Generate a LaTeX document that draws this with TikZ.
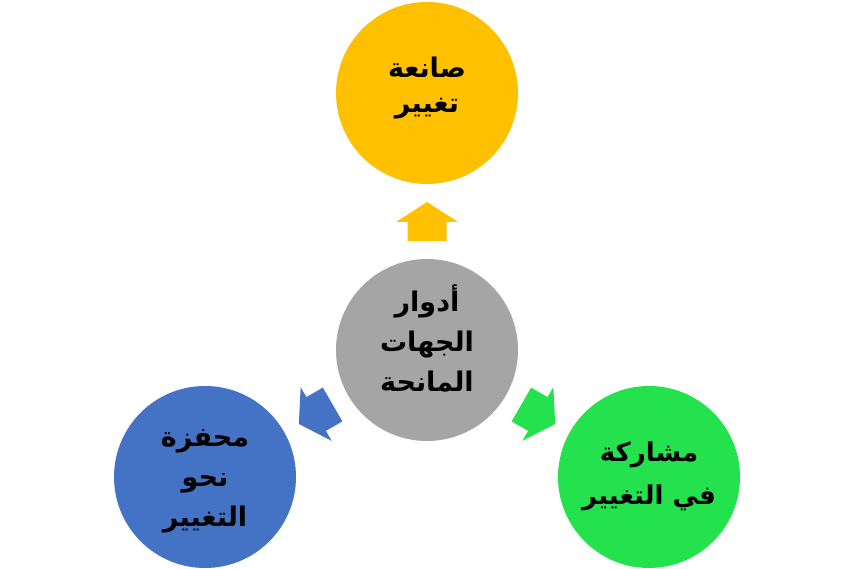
\documentclass[tikz,border=0pt]{standalone}
\usepackage{fontspec}
\newfontfamily\arabicfont[Script=Arabic]{DejaVu Sans}
\TeXXeTstate=1
\newcommand{\artxt}[1]{\beginR #1\endR}
\definecolor{cyellow}{RGB}{255,192,0}
\definecolor{cgrey}{RGB}{165,165,165}
\definecolor{cblue}{RGB}{68,114,196}
\definecolor{cgreen}{RGB}{35,226,78}
\tikzset{
  role/.style={circle, minimum size=182pt, inner sep=0pt, draw=none},
  roletext/.style={align=center, inner sep=0pt, text=black,
    font=\arabicfont\bfseries\fontsize{27}{40}\selectfont}
}
\begin{document}
\begin{tikzpicture}[x=1pt,y=1pt]
\useasboundingbox (0,0) rectangle (853,569);
\coordinate (c) at (427,219);
\node[role, fill=cyellow] (top) at (427,476) {};
\node[roletext] (toptext) at (427,481) {\artxt{صانعة}\\[-5pt]\artxt{تغيير}};
\node[role, fill=cgrey] (mid) at (427,219) {};
\node[roletext] (midtext) at (427,231) {\artxt{أدوار}\\\artxt{الجهات}\\\artxt{المانحة}};
\node[role, fill=cblue] (left) at (205,92) {};
\node[roletext] (lefttext) at (205,88) {\artxt{محفزة}\\\artxt{نحو}\\\artxt{التغيير}};
\node[role, fill=cgreen] (right) at (649,92) {};
\node[roletext, font=\arabicfont\bfseries\fontsize{26}{43}\selectfont] (righttext) at (649,93) {\artxt{مشاركة}\\\artxt{في التغيير}};
\foreach \ang/\col in {0/cyellow,120/cblue,-120/cgreen}{
  \begin{scope}[rotate around={\ang:(c)}]
    \fill[\col] ([shift={(0,148)}]c) -- ([shift={(31,128)}]c) -- ([shift={(19.5,128)}]c)
      -- ([shift={(19.5,109)}]c) -- ([shift={(-19.5,109)}]c) -- ([shift={(-19.5,128)}]c)
      -- ([shift={(-31,128)}]c) -- cycle;
  \end{scope}
}
\end{tikzpicture}
\end{document}
